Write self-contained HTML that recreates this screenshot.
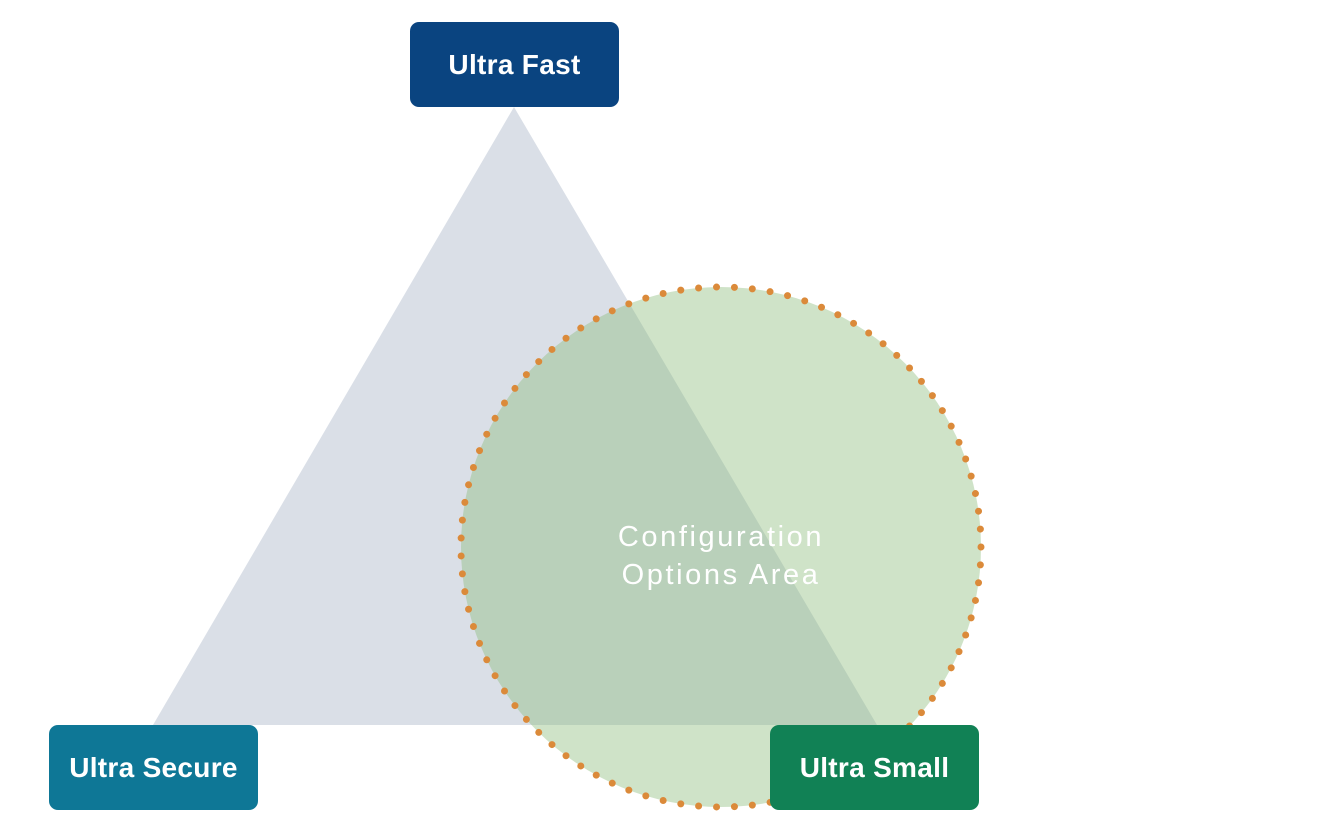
<!DOCTYPE html>
<html><head><meta charset="utf-8"><style>
html,body{margin:0;padding:0;background:#fff;}
body{width:1334px;height:834px;position:relative;overflow:hidden;font-family:"Liberation Sans",sans-serif;}
.box{position:absolute;width:209px;height:85px;border-radius:9px;color:#fff;font-size:28px;font-weight:bold;display:flex;align-items:center;justify-content:center;letter-spacing:0.3px;}
</style></head><body>
<svg width="1334" height="834" style="position:absolute;left:0;top:0">
<polygon points="514,107 153,725 877,725" fill="#dadfe7"/>
<circle cx="721" cy="547" r="260" fill="rgba(136,186,119,0.405)"/>
<circle cx="721" cy="547" r="260" fill="none" stroke="#db8a3a" stroke-width="7" stroke-linecap="round" stroke-dasharray="0 17.95"/>
<text x="721" y="546" text-anchor="middle" fill="#fff" font-family="Liberation Sans, sans-serif" font-size="29" letter-spacing="2.6">Configuration</text>
<text x="721" y="584" text-anchor="middle" fill="#fff" font-family="Liberation Sans, sans-serif" font-size="29" letter-spacing="2.6">Options Area</text>
</svg>
<div class="box" style="left:410px;top:22px;background:#0a4480;">Ultra Fast</div>
<div class="box" style="left:49px;top:725px;background:#0e7796;">Ultra Secure</div>
<div class="box" style="left:770px;top:725px;background:#118155;">Ultra Small</div>
</body></html>
